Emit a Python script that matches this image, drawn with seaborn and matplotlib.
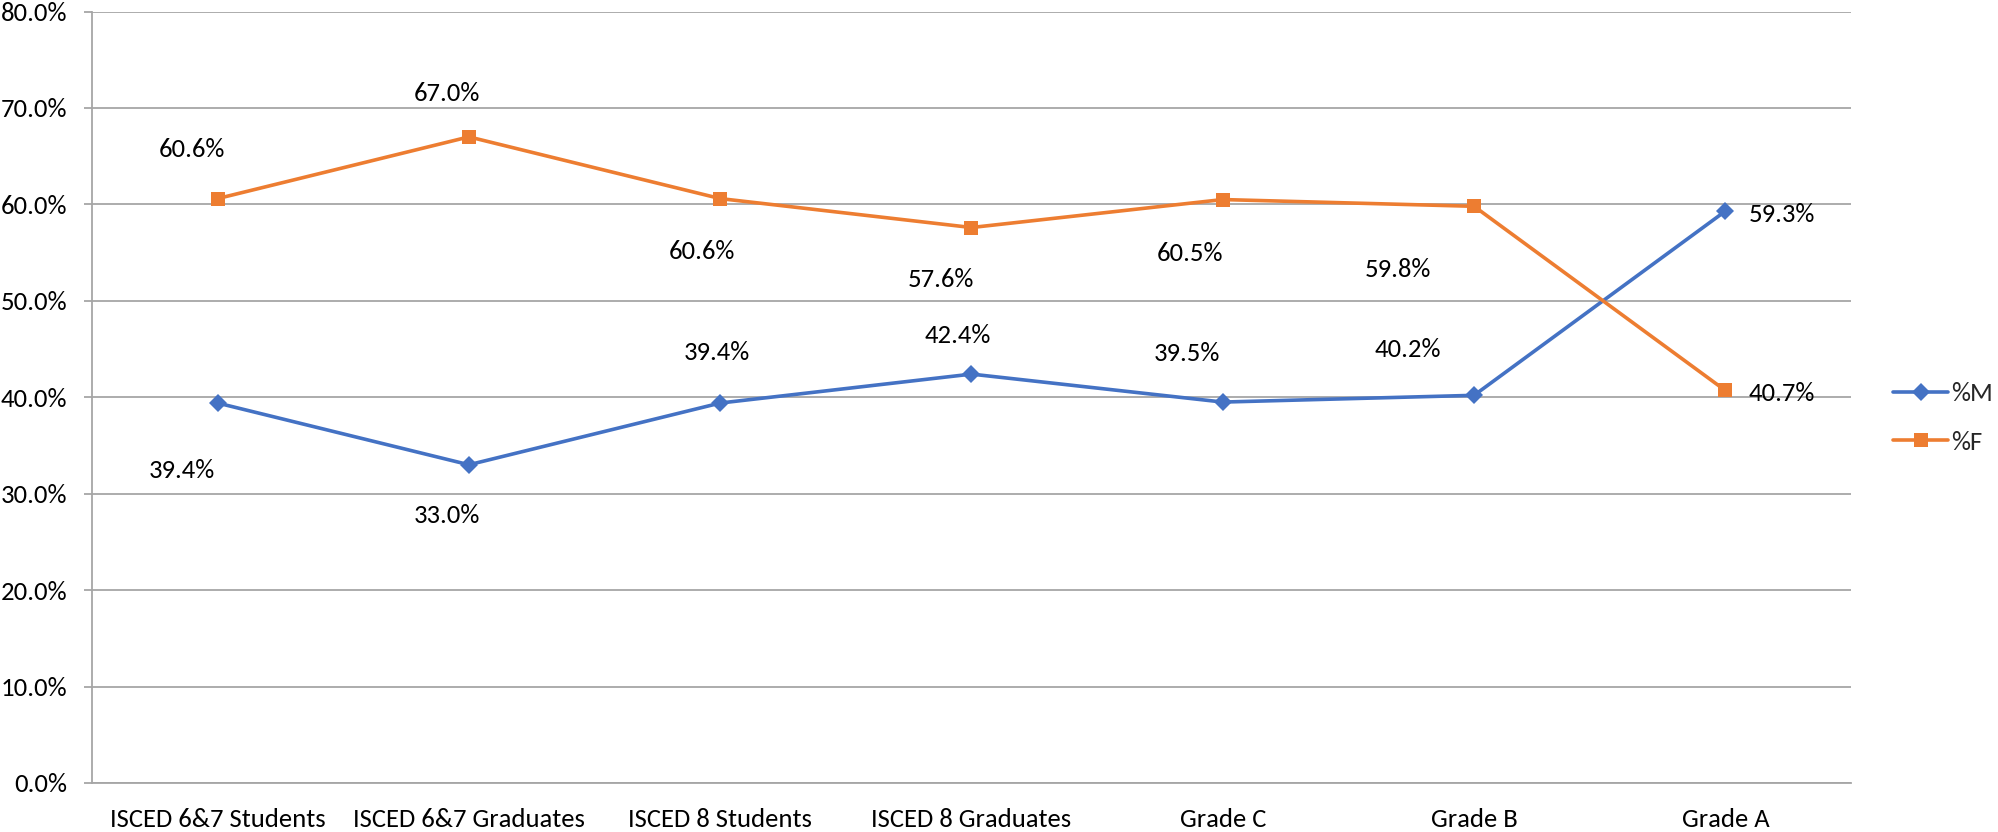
import matplotlib
matplotlib.use("Agg")
import matplotlib.pyplot as plt
import seaborn as sns
import pandas as pd
from matplotlib.ticker import FuncFormatter, FixedLocator

categories = ["ISCED 6&7 Students", "ISCED 6&7 Graduates", "ISCED 8 Students",
              "ISCED 8 Graduates", "Grade C", "Grade B", "Grade A"]
pct_m = [39.4, 33.0, 39.4, 42.4, 39.5, 40.2, 59.3]
pct_f = [60.6, 67.0, 60.6, 57.6, 60.5, 59.8, 40.7]
series_names = ["%M", "%F"]
y_ticks = [0, 10, 20, 30, 40, 50, 60, 70, 80]

# label placement (pixel offsets of the label centre from its point; layout only)
off_m = [(-36, -66), (-22, -50), (-3, 52), (-14, 40), (-36, 50), (-66, 47), (23, -2)]
off_f = [(-26, 50), (-22, 44), (-18, -52), (-31, -51), (-33, -53), (-76, -62), (23, -2)]

BLUE = "#4472C4"
ORANGE = "#ED7D31"
GRID = "#A6A6A6"
FONT = "Carlito"
FS = 19.2
HALF_CAP = 8.5  # px, half the cap height at FS

sns.set_style("white")
plt.rcParams["font.family"] = [FONT, "DejaVu Sans"]

df = pd.DataFrame({
    "category": categories * 2,
    "value": pct_m + pct_f,
    "series": [series_names[0]] * len(categories) + [series_names[1]] * len(categories),
})

fig = plt.figure(figsize=(19.98, 8.32), dpi=100)
ax = fig.add_axes([92 / 1998, 1 - 783 / 832, (1851 - 92) / 1998, (783 - 11.5) / 832])

sns.lineplot(data=df[df.series == series_names[0]], x="category", y="value", ax=ax,
             color=BLUE, marker="D", markersize=9, markeredgewidth=0,
             linewidth=2.6, label=series_names[0], sort=False)
sns.lineplot(data=df[df.series == series_names[1]], x="category", y="value", ax=ax,
             color=ORANGE, marker="s", markersize=10, markeredgewidth=0,
             linewidth=2.6, label=series_names[1], sort=False)

ax.set_xlim(-0.5, len(categories) - 0.5)
ax.set_ylim(0, 80)
ax.set_xlabel("")
ax.set_ylabel("")

ax.yaxis.set_major_locator(FixedLocator(y_ticks))
ax.yaxis.set_major_formatter(FuncFormatter(lambda v, p: f"{v:.1f}%"))
ax.grid(axis="y", color=GRID, linewidth=1.3)
ax.grid(axis="x", visible=False)
ax.set_axisbelow(True)

ax.set_xticks(range(len(categories)))
ax.set_xticklabels(categories)
ax.set_xticks([i - 0.5 for i in range(len(categories) + 1)], minor=True)
ax.tick_params(axis="x", which="major", length=0, pad=18, labelsize=FS, labelcolor="black")
ax.tick_params(axis="x", which="minor", length=6, width=1.3, color=GRID, direction="out")
ax.tick_params(axis="y", which="major", length=6, width=1.3, color=GRID, pad=12,
               labelsize=FS, labelcolor="black", left=True)

for s in ["top", "right"]:
    ax.spines[s].set_visible(False)
for s in ["left", "bottom"]:
    ax.spines[s].set_color(GRID)
    ax.spines[s].set_linewidth(1.3)

for vals, offs in ((pct_m, off_m), (pct_f, off_f)):
    for i, (v, (dx, dy)) in enumerate(zip(vals, offs)):
        ha = "left" if i == len(vals) - 1 else "center"
        ax.annotate(f"{v:.1f}%", xy=(i, v), xytext=(dx, dy - HALF_CAP),
                    textcoords="offset pixels", ha=ha, va="baseline",
                    fontsize=FS, color="black")

leg = ax.legend(loc="center left", bbox_to_anchor=(1880 / 1998, 1 - 418 / 832),
                bbox_transform=fig.transFigure, frameon=False, fontsize=FS,
                handlelength=2.05, handletextpad=0.12, labelspacing=0.95, borderpad=0)

fig.savefig("out.png", dpi=100)
